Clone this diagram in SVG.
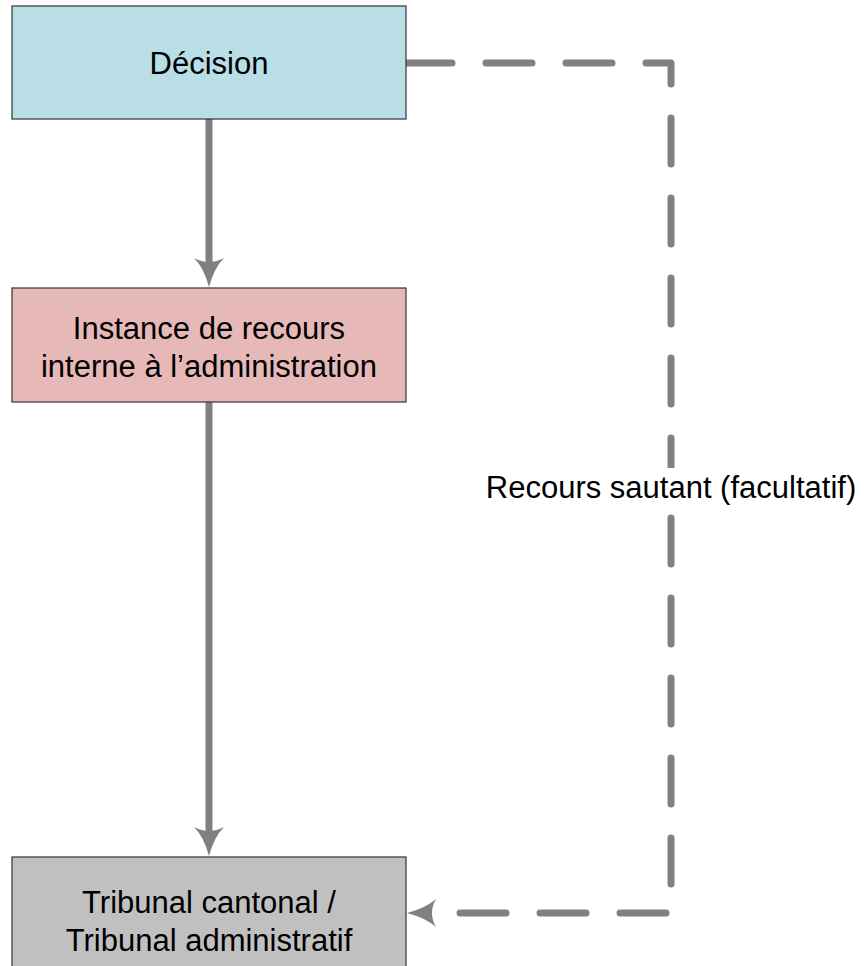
<svg xmlns="http://www.w3.org/2000/svg" width="868" height="966" viewBox="0 0 868 966">
<style>
.box{stroke:#333333;stroke-width:1.2}
.t{font-family:"Liberation Sans",Arial,sans-serif;font-size:31px;fill:#000;text-anchor:middle}
.solid{fill:none;stroke:#808080;stroke-width:7}
.dash{fill:none;stroke:#808080;stroke-width:7;stroke-dasharray:46 34;stroke-linecap:round;stroke-linejoin:round}
.head{fill:#808080}
</style>
<rect width="868" height="966" fill="#ffffff"/>
<g id="connectors">
<line class="solid" x1="209" y1="119" x2="209" y2="264"/>
<path class="head" d="M209,287 Q204,268 194,258 Q209,266 224,258 Q214,268 209,287 Z"/>
<line class="solid" x1="209" y1="402" x2="209" y2="832"/>
<path class="head" d="M209,856 Q204,837 194,827 Q209,835 224,827 Q214,837 209,856 Z"/>
<path class="dash" d="M406,63 L671,63 L671,913 L440,913"/>
<path class="head" d="M407,913 Q426,908 436,899 Q428,913 436,927 Q426,918 407,913 Z"/>
<g id="label">
<rect x="480" y="468" width="382" height="40" fill="#ffffff"/>
<text class="t" x="671" y="498">Recours sautant (facultatif)</text>
</g>
</g>
<g id="decision">
<rect class="box" x="12" y="6" width="394" height="113" fill="#B9DEE6"/>
<text class="t" x="209" y="74">Décision</text>
</g>
<g id="instance">
<rect class="box" x="12" y="288" width="394" height="114" fill="#E6B9B8"/>
<text class="t" x="209" y="339">Instance de recours</text>
<text class="t" x="209" y="377">interne à l’administration</text>
</g>
<g id="tribunal">
<rect class="box" x="12" y="857" width="394" height="130" fill="#C0C0C0"/>
<text class="t" x="209" y="913">Tribunal cantonal /</text>
<text class="t" x="209" y="951">Tribunal administratif</text>
</g>
</svg>
